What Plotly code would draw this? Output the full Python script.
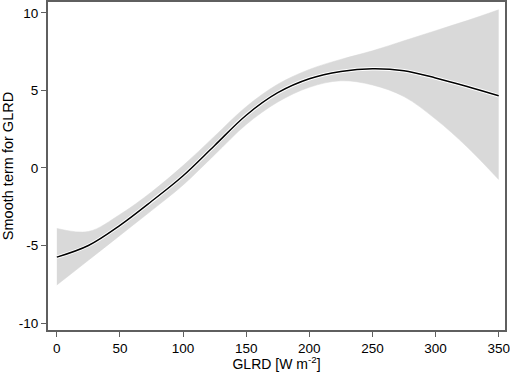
import plotly.graph_objects as go

x_vals = [0, 25, 50, 75, 100, 125, 150, 175, 200, 225, 250, 275, 300, 325, 350]
fit = [-5.75, -5.0, -3.7, -2.15, -0.5, 1.45, 3.4, 4.85, 5.75, 6.22, 6.4, 6.27, 5.8, 5.25, 4.65]
upper = [-3.9, -4.1, -3.0, -1.55, 0.15, 2.05, 3.95, 5.4, 6.35, 7.0, 7.55, 8.2, 8.85, 9.5, 10.2]
lower = [-7.55, -5.95, -4.35, -2.75, -1.1, 0.85, 2.8, 4.25, 5.2, 5.62, 5.35, 4.6, 3.15, 1.35, -0.75]

x_ticks = [0, 50, 100, 150, 200, 250, 300, 350]
y_ticks = [-10, -5, 0, 5, 10]
y_tick_text = ["-10", "-5", "0", "5", "10"]

FONT = "Liberation Sans, Arial, sans-serif"

fig = go.Figure()
fig.add_trace(go.Scatter(x=x_vals, y=upper, mode="lines", line=dict(color="#d6d6d6", width=0.5, shape="spline"),
                         showlegend=False, hoverinfo="skip"))
fig.add_trace(go.Scatter(x=x_vals, y=lower, mode="lines", line=dict(color="#d6d6d6", width=0.5, shape="spline"),
                         fill="tonexty", fillcolor="#d9d9d9", showlegend=False, hoverinfo="skip"))
fig.add_trace(go.Scatter(x=x_vals, y=fit, mode="lines", line=dict(color="white", width=3.5, shape="spline"),
                         showlegend=False, hoverinfo="skip"))
fig.add_trace(go.Scatter(x=x_vals, y=fit, mode="lines", line=dict(color="black", width=1.5, shape="spline"),
                         showlegend=False))

axis_common = dict(showline=True, linecolor="#5f5f5f", linewidth=2, mirror=True, ticks="outside",
                   ticklen=5, tickwidth=1, tickcolor="#5f5f5f", showgrid=False, zeroline=False,
                   automargin=False,
                   tickfont=dict(family=FONT, size=13.5, color="black"))

fig.update_layout(
    width=510, height=372,
    margin=dict(l=48, r=5, t=2, b=42),
    plot_bgcolor="white", paper_bgcolor="white",
    font=dict(family=FONT, size=13.5, color="black"),
    xaxis=dict(range=[-7, 355], tickvals=x_ticks,
               title=dict(text="GLRD [W m<sup>-2</sup>]", font=dict(family=FONT, size=14, color="black"), standoff=4),
               **axis_common),
    yaxis=dict(range=[-10.45, 10.7], tickvals=y_ticks, ticktext=y_tick_text,
               title=dict(text="Smooth term for GLRD", font=dict(family=FONT, size=14.5, color="black"), standoff=4),
               **axis_common),
)

fig.write_html("out.html", config={"displayModeBar": False},
               post_script="document.body.style.margin='0px';document.body.style.overflow='hidden';")
